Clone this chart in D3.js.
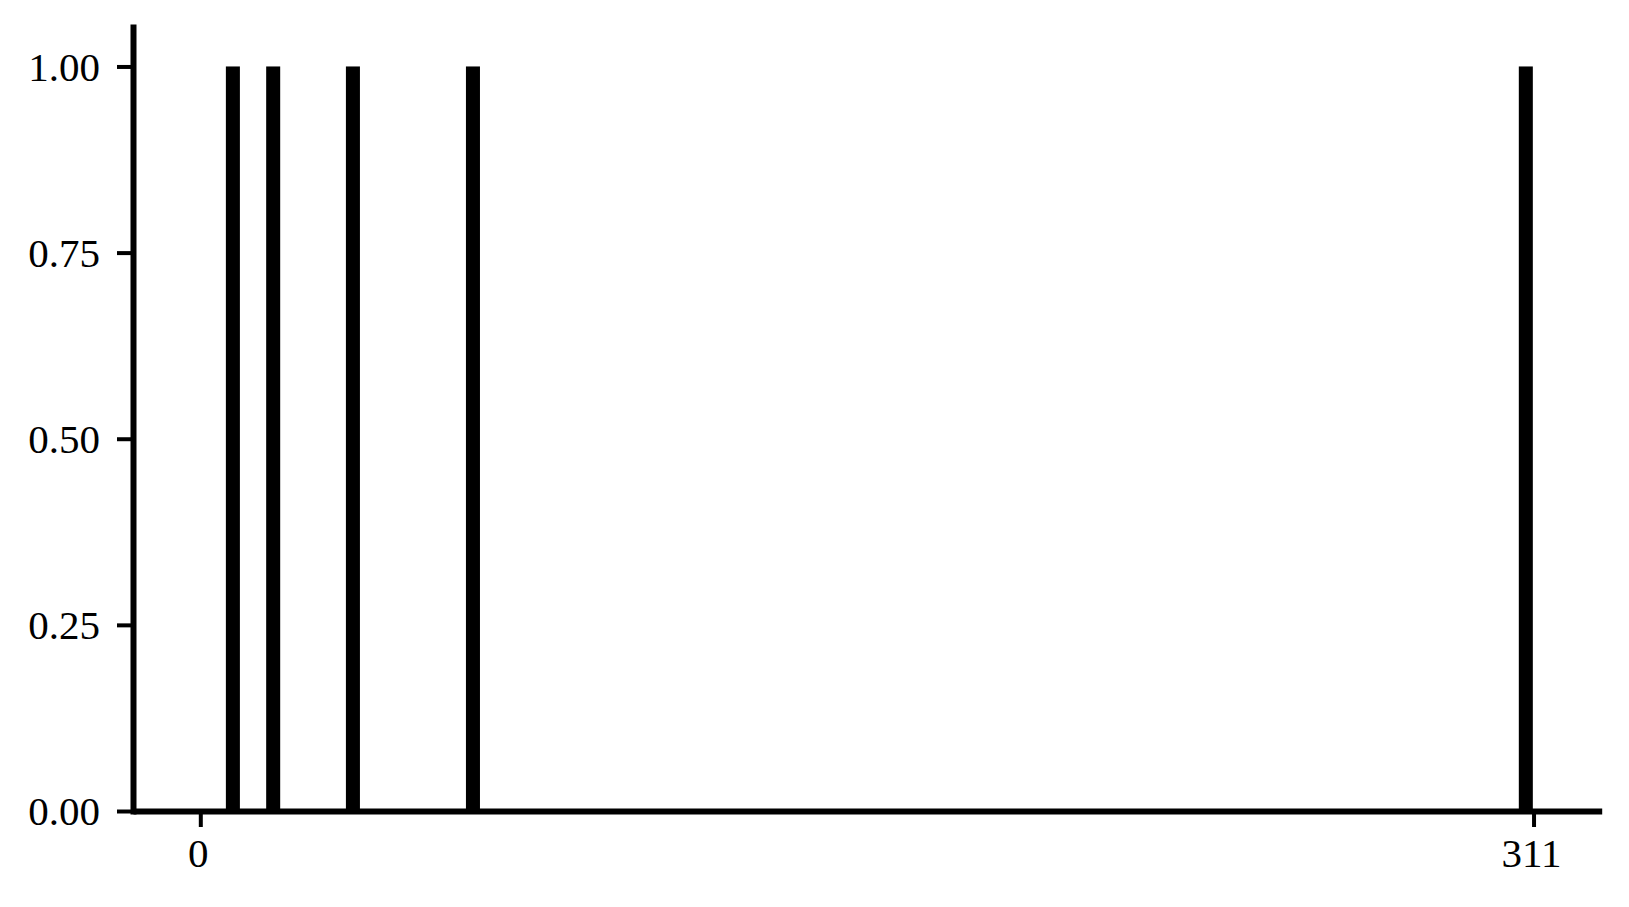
<!DOCTYPE html>
<html>
<head>
<meta charset="utf-8">
<script src="https://cdn.jsdelivr.net/npm/d3@7"></script>
<style>
  html, body { margin: 0; padding: 0; background: #ffffff; }
  svg { display: block; }
  text { font-family: "Liberation Serif", "DejaVu Serif", serif; }
</style>
</head>
<body>
<svg id="chart" width="1629" height="907"></svg>
<script>
// ---- data ----
const barPositions = [7.6, 17.0, 35.6, 63.6, 309.2];
const barValues = [1, 1, 1, 1, 1];
const xTickValues = [0, 311];
const yTickValues = [0, 0.25, 0.5, 0.75, 1.0];

// ---- layout ----
const xDomain = [-15.7, 326.9];
const yDomain = [0, 1.053];
const plotLeft = 133, plotRight = 1601.7, plotTop = 27, plotBottom = 811;
const barWidthUnits = 3.27;
const fontSize = 41;

const svg = d3.select("#chart");
const x = d3.scaleLinear().domain(xDomain).range([plotLeft, plotRight]);
const y = d3.scaleLinear().domain(yDomain).range([plotBottom, plotTop]);

const data = barPositions.map((p, i) => ({ p, v: barValues[i] }));

// bars
svg.append("g")
  .selectAll("rect")
  .data(data)
  .join("rect")
  .attr("x", d => x(d.p - barWidthUnits / 2))
  .attr("width", d => x(d.p + barWidthUnits / 2) - x(d.p - barWidthUnits / 2))
  .attr("y", d => y(d.v))
  .attr("height", d => y(0) - y(d.v))
  .attr("fill", "#000");

// y axis
const yAxis = d3.axisLeft(y)
  .tickValues(yTickValues)
  .tickFormat(d3.format(".2f"))
  .tickSize(16)
  .tickSizeOuter(0)
  .tickPadding(17);
const gy = svg.append("g").attr("transform", `translate(${plotLeft},0)`).call(yAxis);
gy.select(".domain").attr("stroke", "#000").attr("stroke-width", 6).attr("stroke-linecap", "square");
gy.selectAll(".tick line").attr("stroke", "#000").attr("stroke-width", 4);
gy.selectAll(".tick text")
  .attr("font-size", fontSize)
  .attr("font-family", "Liberation Serif, DejaVu Serif, serif")
  .attr("fill", "#000")
  .attr("dy", "0.34em");

// x axis
const xAxis = d3.axisBottom(x)
  .tickValues(xTickValues)
  .tickFormat(d3.format("d"))
  .tickSize(16)
  .tickSizeOuter(0)
  .tickPadding(11);
const gx = svg.append("g").attr("transform", `translate(0,${plotBottom})`).call(xAxis);
gx.select(".domain").attr("stroke", "#000").attr("stroke-width", 6).attr("stroke-linecap", "butt");
gx.selectAll(".tick line").attr("stroke", "#000").attr("stroke-width", 4);
gx.selectAll(".tick text")
  .attr("font-size", fontSize)
  .attr("font-family", "Liberation Serif, DejaVu Serif, serif")
  .attr("fill", "#000")
  .attr("dx", "-0.06em");
</script>
</body>
</html>
